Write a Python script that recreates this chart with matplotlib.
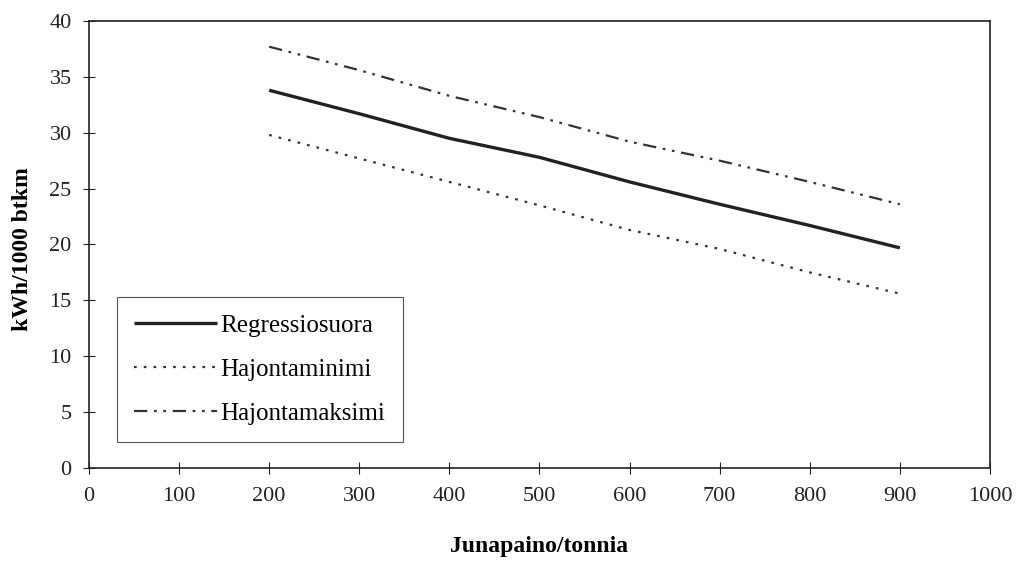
import matplotlib.pyplot as plt

# data
paino = [200, 300, 400, 500, 600, 700, 800, 900]
regressio = [33.8, 31.7, 29.5, 27.8, 25.6, 23.6, 21.7, 19.7]
minimi = [29.8, 27.7, 25.6, 23.5, 21.3, 19.6, 17.5, 15.6]
maksimi = [37.7, 35.6, 33.3, 31.4, 29.2, 27.5, 25.6, 23.6]

x_ticks = list(range(0, 1001, 100))
y_ticks = list(range(0, 41, 5))

plt.rcParams["font.family"] = ["Liberation Serif", "DejaVu Serif"]

fig = plt.figure(figsize=(10.19, 5.61), dpi=100)
ax = fig.add_axes([0.0873, 0.1658, 0.8842, 0.7968])

ax.plot(paino, regressio, color="#222222", lw=2.4, solid_capstyle="butt",
        label="Regressiosuora")
ax.plot(paino, minimi, color="#333333", lw=1.6, dashes=(1.2, 3.2),
        label="Hajontaminimi")
ax.plot(paino, maksimi, color="#333333", lw=1.6,
        dashes=(6, 3, 1.2, 3, 1.2, 3), label="Hajontamaksimi")

ax.set_xlim(0, 1000)
ax.set_ylim(0, 40)
ax.set_xticks(x_ticks)
ax.set_yticks(y_ticks)
ax.tick_params(direction="inout", length=9, width=0.8, labelsize=16,
               colors="#222222")
ax.tick_params(axis="x", pad=9)
ax.tick_params(axis="y", pad=8)
for s in ax.spines.values():
    s.set_linewidth(1.2)
    s.set_color("#222222")

ax.set_xlabel("Junapaino/tonnia", fontsize=17, fontweight="bold")
ax.set_ylabel("kWh/1000 btkm", fontsize=17, fontweight="bold")
ax.xaxis.set_label_coords(0.5, -0.152)
ax.yaxis.set_label_coords(-0.062, 0.49)

leg = ax.legend(loc="lower left", bbox_to_anchor=(0.031, 0.058),
                fontsize=18, handlelength=3.3, handletextpad=0.15,
                labelspacing=0.85, borderpad=0.7, borderaxespad=0,
                fancybox=False, framealpha=1, edgecolor="#555555")
leg.get_frame().set_linewidth(0.8)

fig.savefig("out.png", dpi=100)
